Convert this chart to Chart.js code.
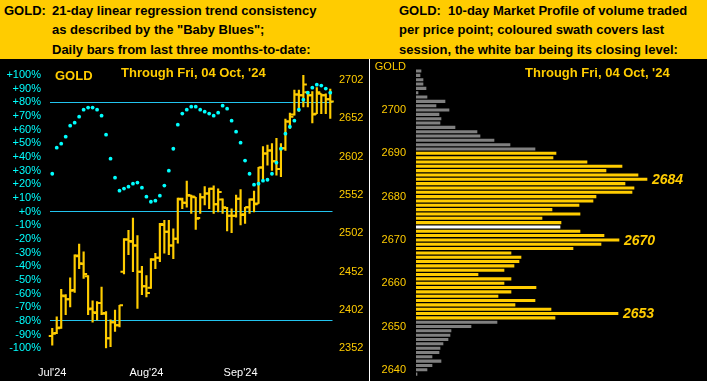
<!DOCTYPE html>
<html><head><meta charset="utf-8">
<script src="https://cdn.jsdelivr.net/npm/chart.js@4/dist/chart.umd.min.js"></script>
<style>
html,body{margin:0;padding:0;background:#000;width:707px;height:381px;overflow:hidden;font-family:"Liberation Sans",Arial,sans-serif;}
#hdr{position:absolute;left:0;top:0;width:707px;height:59px;background:#FFCC00;}
.h{position:absolute;top:0.5px;font-weight:bold;font-size:13px;line-height:19.7px;color:#000;white-space:nowrap;}
.t{position:absolute;font-weight:bold;font-size:13px;line-height:16px;color:#FFCC00;white-space:nowrap;}
#sep{position:absolute;left:369px;top:59px;width:1px;height:322px;background:#fff;}
canvas{position:absolute;top:59px;}
</style></head>
<body>
<div id="hdr"></div>
<div class="h" style="left:4px">GOLD:</div>
<div class="h" style="left:52px">21-day linear regression trend consistency<br>as described by the "Baby Blues";<br>Daily bars from last three months-to-date:</div>
<div class="h" style="left:399px">GOLD:&nbsp;&nbsp;10-day Market Profile of volume traded<br>per price point; coloured swath covers last<br>session, the white bar being its closing level:</div>
<canvas id="lc" width="366" height="322" style="left:0px"></canvas>
<canvas id="rc" width="337" height="322" style="left:370px"></canvas>
<div id="sep"></div>
<div class="t" style="left:55px;top:68px">GOLD</div>
<div class="t" style="left:121px;top:65px">Through Fri, 04 Oct, '24</div>
<div class="t" style="left:525px;top:65px">Through Fri, 04 Oct, '24</div>
<div style="position:absolute;right:301px;top:60px;font-size:11px;line-height:13px;color:#FFCC00;">GOLD</div>
<script>
// ---- Left panel data (daily bars, Jul-Oct 2024) ----
const opens  = [2368,2372,2379,2420,2416,2428,2472,2462,2446,2404,2398,2411,2398,2365,2386,2382,2452,2494,2491,2486,2452,2433,2431,2468,2470,2513,2504,2486,2495,2546,2542,2551,2549,2522,2549,2554,2560,2540,2546,2535,2525,2525,2547,2527,2536,2546,2541,2588,2606,2610,2596,2586,2613,2648,2657,2683,2682,2686,2682,2658,2684,2682,2677];
const highs  = [2378,2393,2429,2422,2444,2474,2488,2478,2447,2414,2413,2432,2400,2389,2402,2408,2495,2506,2522,2499,2459,2447,2469,2476,2515,2519,2519,2508,2548,2548,2570,2552,2549,2554,2563,2561,2564,2560,2547,2536,2534,2552,2559,2536,2547,2557,2588,2615,2617,2619,2626,2619,2651,2659,2689,2689,2708,2687,2687,2692,2684,2684,2690];
const lows   = [2356,2371,2378,2396,2406,2425,2456,2443,2396,2386,2389,2396,2352,2354,2374,2380,2449,2474,2452,2404,2422,2419,2430,2456,2465,2476,2474,2469,2489,2534,2536,2528,2507,2528,2539,2534,2528,2530,2528,2505,2503,2523,2513,2515,2528,2530,2541,2573,2591,2584,2578,2576,2610,2639,2656,2661,2667,2667,2646,2658,2658,2658,2652];
const closes = [2371,2378,2421,2416,2427,2473,2463,2449,2403,2399,2411,2397,2365,2386,2382,2408,2494,2492,2486,2452,2433,2424,2468,2470,2514,2504,2486,2495,2547,2542,2552,2550,2521,2549,2554,2560,2540,2556,2536,2525,2525,2547,2526,2536,2546,2540,2588,2606,2610,2596,2586,2613,2648,2654,2683,2682,2696,2682,2657,2686,2682,2677,2674];
const blues  = [27.8,46.9,49.8,54.9,63.0,65.2,69.6,74.7,76.2,76.2,74.7,70.3,56.4,38.8,24.9,15.4,16.9,18.3,20.5,21.3,17.6,11.0,7.3,8.1,11.7,19.1,30.0,46.1,63.7,71.8,74.7,76.9,76.9,74.7,73.2,71.8,70.3,72.5,77.6,75.4,66.6,58.6,50.5,37.4,27.8,19.8,20.5,22.7,23.4,27.8,35.9,46.1,57.1,62.2,66.6,74.7,82.0,87.1,90.8,93.0,92.3,90.1,87.1];
const monthTicks = {0:"Jul'24", 21:"Aug'24", 42:"Sep'24"};
const priceTicks = [2352,2402,2452,2502,2552,2602,2652,2702];
const guideLevels = [80,0,-80];

// ---- Right panel data (10-day market profile) ----
const profilePrices = [2709,2708,2707,2706,2705,2704,2703,2702,2701,2700,2699,2698,2697,2696,2695,2694,2693,2692,2691,2690,2689,2688,2687,2686,2685,2684,2683,2682,2681,2680,2679,2678,2677,2676,2675,2674,2673,2672,2671,2670,2669,2668,2667,2666,2665,2664,2663,2662,2661,2660,2659,2658,2657,2656,2655,2654,2653,2652,2651,2650,2649,2648,2647,2646,2645,2644,2643,2642,2641,2640,2639];
const profileVolume = [5,4,7,7,10,2,11,29,20,33,23,25,24,39,61,64,78,94,119,140,137,171,206,190,222,231,209,218,216,180,177,163,136,164,126,145,144,164,188,203,185,157,95,105,103,98,88,62,95,88,120,95,82,119,99,135,202,139,81,55,35,34,32,27,24,23,16,25,16,11,1];
const sessionLow = 2652, sessionHigh = 2690, closeLevel = 2673;
const calloutPrices = [2684,2670,2653];

const GOLD = '#FFCC00', CYAN = '#00FFFF', LINE = '#22C4EE', GREY = '#808080';
Chart.defaults.font.family = '"Liberation Sans", Arial, sans-serif';
Chart.defaults.font.size = 11;

const idx = closes.map((_, i) => i);

new Chart(document.getElementById('lc'), {
  type: 'bar',
  data: {
    labels: idx,
    datasets: [
      {type:'line', data: blues, yAxisID:'pct', showLine:false, pointRadius:1.9, pointBackgroundColor:CYAN, pointBorderWidth:0, order:0},
      {type:'line', data: closes, yAxisID:'price', showLine:false, pointStyle:'dash', pointRadius:3.5, pointBorderWidth:2, pointBorderColor:GOLD, order:1},
      {type:'line', data: opens, yAxisID:'price', showLine:false, pointStyle:'dash', pointRotation:180, pointRadius:3.5, pointBorderWidth:2, pointBorderColor:GOLD, order:1},
      {type:'bar', data: highs.map((h, i) => [lows[i], h]), yAxisID:'price', backgroundColor:GOLD, barThickness:1.5, order:2}
    ]
  },
  options: {
    responsive:false, animation:false,
    layout:{padding:{top:16.1, bottom:0, left:0, right:0}},
    plugins:{legend:{display:false}, tooltip:{enabled:false}},
    scales: {
      x: {
        offset:true, grid:{display:false}, border:{display:false},
        ticks:{autoSkip:false, maxRotation:0, color:'#FFFFFF', padding:10, callback:(v, i) => monthTicks[i] || ''},
        afterFit(s){ s.height = 32.7; }
      },
      pct: {
        type:'linear', position:'left', min:-100, max:100,
        ticks:{stepSize:10, autoSkip:false, color:CYAN, padding:9, callback:v => (v >= 0 ? '+' : '') + v + '%'},
        grid:{drawTicks:false, lineWidth:1, color:c => (c.tick && guideLevels.includes(c.tick.value)) ? LINE : 'rgba(0,0,0,0)'},
        border:{display:false},
        afterFit(s){ s.width = 50; s.paddingTop = 0; s.paddingBottom = 0; }
      },
      price: {
        type:'linear', position:'right', min:2352, max:2708.4,
        grid:{display:false, drawTicks:false}, border:{display:false},
        afterBuildTicks(s){ s.ticks = priceTicks.map(v => ({value:v})); },
        ticks:{autoSkip:false, color:GOLD, padding:6.5, callback:v => String(v)},
        afterFit(s){ s.width = 33.5; s.paddingTop = 0; s.paddingBottom = 0; }
      }
    }
  }
});

const profileLabelPlugin = {
  id:'profileLabels',
  afterDatasetsDraw(chart){
    const meta = chart.getDatasetMeta(0);
    const ctx = chart.ctx;
    ctx.save();
    ctx.font = 'italic bold 14px "Liberation Sans", Arial, sans-serif';
    ctx.fillStyle = GOLD;
    ctx.textBaseline = 'middle';
    ctx.textAlign = 'left';
    calloutPrices.forEach(p => {
      const el = meta.data[profilePrices.indexOf(p)];
      if (el) ctx.fillText(String(p), el.x + 5, el.y + 1);
    });
    ctx.restore();
  }
};

const profileColors = profilePrices.map(p => p === closeLevel ? '#FFFFFF' : (p >= sessionLow && p <= sessionHigh ? GOLD : GREY));

new Chart(document.getElementById('rc'), {
  type: 'bar',
  data: {
    labels: profilePrices.map(String),
    datasets: [{data: profileVolume, backgroundColor: profileColors, barThickness:2.4, borderWidth:0}]
  },
  options: {
    indexAxis:'y', responsive:false, animation:false,
    layout:{padding:{top:9.9, bottom:4.7, right:7, left:0}},
    plugins:{legend:{display:false}, tooltip:{enabled:false}},
    scales: {
      x: {display:false, min:0, max:284},
      y: {
        grid:{display:false, drawTicks:false}, border:{display:false},
        ticks:{autoSkip:false, color:GOLD, padding:10, callback:(v, i) => profilePrices[i] % 10 === 0 ? String(profilePrices[i]) : ''},
        afterFit(s){ s.width = 46; s.paddingTop = 0; s.paddingBottom = 0; }
      }
    }
  },
  plugins:[profileLabelPlugin]
});
</script>
</body></html>
